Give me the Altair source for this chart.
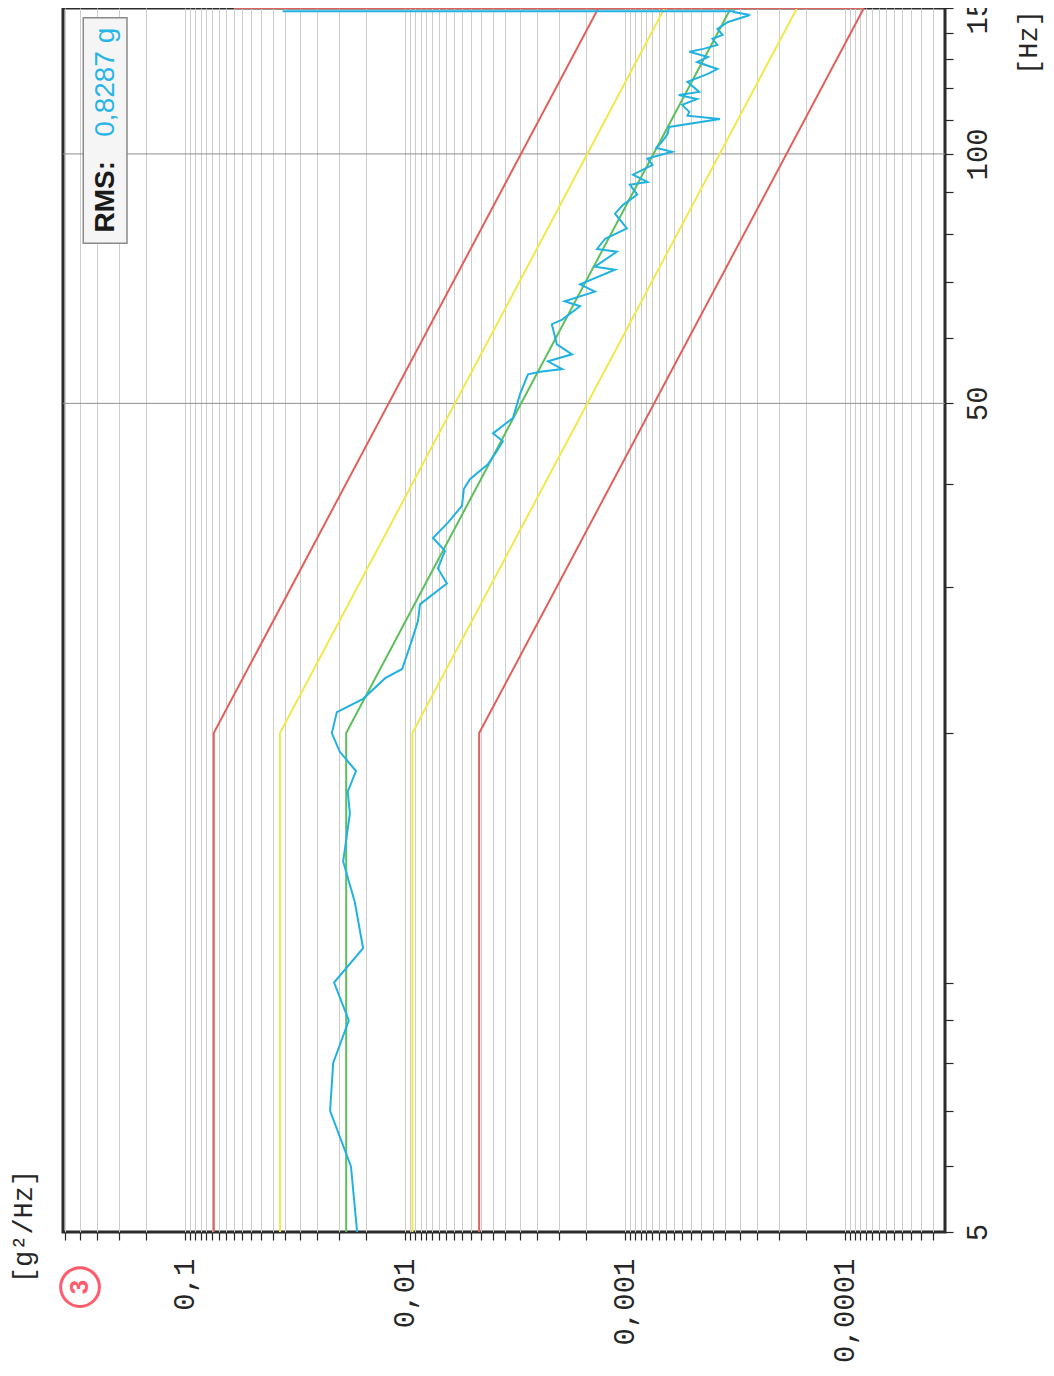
import altair as alt
import pandas as pd

# ---------------- data ----------------
blue_freq = [5.0, 6.0, 7.0, 8.0, 9.0, 10.0, 11.0, 12.5, 14.0, 16.0, 17.0, 18.0, 19.0, 20.0,
             21.2, 22.0, 23.3, 23.9, 25.9, 27.3, 28.6, 30.3, 31.6, 33.2, 34.4, 35.9, 37.6,
             39.4, 40.5, 42.2, 43.8, 45.0, 46.0, 48.0, 51.3, 54.2, 54.6, 55.0, 56.2, 57.3,
             58.9, 62.3, 63.1, 65.5, 66.4, 68.2, 69.6, 72.5, 73.1, 76.2, 76.8, 79.0, 81.3,
             84.7, 86.8, 89.3, 91.8, 92.5, 94.4, 97.0, 98.7, 100.6, 101.7, 103.4, 105.7,
             107.8, 110.2, 111.2, 112.4, 114.6, 116.5, 117.8, 118.8, 122.2, 124.9, 126.6,
             129.1, 130.9, 132.8, 133.9, 135.4, 137.7, 139.2, 141.5, 144.3, 147.1, 148.3,
             148.7, 148.7]
blue_psd = [0.0165, 0.0176, 0.0219, 0.0212, 0.0180, 0.0210, 0.0155, 0.0169, 0.0191, 0.0178,
            0.0182, 0.0167, 0.0198, 0.0215, 0.0204, 0.0155, 0.0123, 0.0103, 0.0093, 0.00873,
            0.00855, 0.00645, 0.00708, 0.00658, 0.00746, 0.00638, 0.00551, 0.0054, 0.00507,
            0.0042, 0.00382, 0.00359, 0.00398, 0.00323, 0.0030, 0.00276, 0.00243, 0.00193,
            0.00224, 0.00174, 0.00204, 0.00215, 0.00193, 0.0016, 0.00188, 0.00137, 0.0016,
            0.00111, 0.00137, 0.00109, 0.00134, 0.00123, 0.00098, 0.00111, 0.00102, 0.00088,
            0.00095, 0.00079, 0.00092, 0.00075, 0.00079, 0.00061, 0.00072, 0.00068, 0.00064,
            0.00063, 0.00037, 0.00052, 0.00051, 0.00055, 0.00047, 0.00057, 0.00046, 0.00052,
            0.00042, 0.00038, 0.00047, 0.00042, 0.00051, 0.00044, 0.00038, 0.00040, 0.00036,
            0.00038, 0.00034, 0.00027, 0.00032, 0.00032, 0.036]

env_freq = [5, 20, 150]
red_hi = [0.074, 0.074, 0.00132]
yel_hi = [0.037, 0.037, 0.00066]
ref_line = [0.0185, 0.0185, 0.00033]
yel_lo = [0.00925, 0.00925, 0.000165]
red_lo = [0.0046, 0.0046, 0.000082]
red_close_freq = [150, 150]
red_close_psd = [0.000082, 0.06]
major_freq = [50, 100]

psd_mantissas = [1, 1.5, 2, 2.5, 3, 3.5, 4, 4.5, 5, 5.5, 6, 6.5, 7, 7.5, 8, 8.5, 9, 9.5]
psd_exponents = [-5, -4, -3, -2, -1]
psd_label_values = [0.1, 0.01, 0.001, 0.0001]
psd_label_texts = ["0,1", "0,01", "0,001", "0,0001"]
freq_tick_values = [5, 6, 7, 8, 9, 10, 20, 30, 40, 50, 60, 70, 80, 90, 100, 110, 120, 130, 140, 150]
freq_label_values = [5, 50, 100, 150]
freq_label_texts = ["5", "50", "100", "150"]
rms_label = "RMS:"
rms_value = "0,8287 g"
psd_title = "[g²/Hz]"
freq_title = "[Hz]"
sheet_mark = "3"

# ---------------- layout / style ----------------
PSD_DOMAIN = [3.51e-5, 0.3585]
FREQ_DOMAIN = [5, 150]
MONO = "Liberation Mono"
SANS = "Liberation Sans"
INK = "#262626"

psd_ticks = sorted(round(m * 10 ** e, 12) for e in psd_exponents for m in psd_mantissas
                   if PSD_DOMAIN[0] <= m * 10 ** e <= PSD_DOMAIN[1])


def label_expr(values, texts):
    expr = "''"
    for v, t in reversed(list(zip(values, texts))):
        expr = f"datum.value == {v!r} ? '{t}' : {expr}"
    return expr


xscale = alt.Scale(type="log", domain=PSD_DOMAIN, reverse=True, nice=False)
yscale = alt.Scale(type="log", domain=FREQ_DOMAIN, nice=False)

xaxis = alt.Axis(orient="bottom", values=psd_ticks,
                 labelExpr=label_expr(psd_label_values, psd_label_texts),
                 grid=True, gridColor="#cdcdcd", gridWidth=1, domain=False,
                 ticks=True, tickSize=8, tickColor=INK, tickWidth=1.2,
                 labelAngle=270, labelAlign="right", labelBaseline="middle",
                 labelFont=MONO, labelFontSize=29, labelColor=INK, labelPadding=18,
                 labelOverlap=False, labelFlush=False,
                 title=psd_title, titleAngle=270, titleX=-40, titleY=-6,
                 titleAlign="center", titleBaseline="middle", titleFont=MONO,
                 titleFontSize=27, titleFontWeight="normal", titleColor=INK)

yaxis = alt.Axis(orient="right", values=freq_tick_values,
                 labelExpr=label_expr(freq_label_values, freq_label_texts),
                 grid=False, domain=False, ticks=True, tickSize=8, tickColor=INK,
                 tickWidth=1.2, labelAngle=270, labelAlign="center", labelBaseline="top",
                 labelFont=MONO, labelFontSize=29, labelColor=INK, labelPadding=10,
                 labelOverlap=False, labelFlush=False,
                 title=freq_title, titleAngle=270, titleX=83, titleY=34,
                 titleAlign="center", titleBaseline="middle", titleFont=MONO,
                 titleFontSize=27, titleFontWeight="normal", titleColor=INK)


def X(field="psd"):
    return alt.X(f"{field}:Q", scale=xscale, axis=xaxis)


def Y(field="freq"):
    return alt.Y(f"{field}:Q", scale=yscale, axis=yaxis)


# ---------------- tables ----------------
env_rows = []
for name, vals in [("red_hi", red_hi), ("yel_hi", yel_hi), ("ref", ref_line),
                   ("yel_lo", yel_lo), ("red_lo", red_lo)]:
    for i, (f, p) in enumerate(zip(env_freq, vals)):
        env_rows.append({"series": name, "freq": f, "psd": p, "ord": i})
for i, (f, p) in enumerate(zip(red_close_freq, red_close_psd)):
    env_rows.append({"series": "red_close", "freq": f, "psd": p, "ord": i})
env_df = pd.DataFrame(env_rows)

blue_df = pd.DataFrame({"freq": blue_freq, "psd": blue_psd, "ord": range(len(blue_freq))})
rule_df = pd.DataFrame({"freq": major_freq})

rms_box_df = pd.DataFrame({"psd": [0.29], "psd2": [0.1835], "freq": [146.0], "freq2": [78.0]})
rms_label_df = pd.DataFrame({"psd": [0.2286], "freq": [80.4], "txt": [rms_label]})
rms_value_df = pd.DataFrame({"psd": [0.2286], "freq": [104.9], "txt": [rms_value]})
mark_df = pd.DataFrame({"psd": [0.30], "freq": [4.29], "txt": [sheet_mark]})

# ---------------- layers ----------------
rules = alt.Chart(rule_df).mark_rule(color="#8f8f8f", strokeWidth=1).encode(y=Y())

env = alt.Chart(env_df).mark_line(strokeWidth=2).encode(
    x=X(), y=Y(),
    color=alt.Color("series:N",
                    scale=alt.Scale(domain=["red_hi", "yel_hi", "ref", "yel_lo", "red_lo", "red_close"],
                                    range=["#e0605c", "#f3e84a", "#5cbf5a", "#f3e84a", "#e0605c", "#e0605c"]),
                    legend=None),
    order="ord:Q")

blue = alt.Chart(blue_df).mark_line(strokeWidth=2, color="#22b2e2").encode(
    x=X(), y=Y(), order="ord:Q")

rms_box = alt.Chart(rms_box_df).mark_rect(fill="#f5f5f5", stroke="#8a8a8a", strokeWidth=1.5).encode(
    x=X(), x2="psd2:Q", y=Y(), y2="freq2:Q")

rms_label_t = alt.Chart(rms_label_df).mark_text(
    angle=270, align="left", baseline="middle", font=SANS, fontSize=28, fontWeight="bold",
    color="#1a1a1a").encode(x=X(), y=Y(), text="txt:N")

rms_value_t = alt.Chart(rms_value_df).mark_text(
    angle=270, align="left", baseline="middle", font=SANS, fontSize=28,
    color="#29b5e6").encode(x=X(), y=Y(), text="txt:N")

mark_circle = alt.Chart(mark_df).mark_point(
    shape="circle", size=1500, filled=False, stroke="#ff5b6b", strokeWidth=3, opacity=1).encode(
    x=X(), y=Y())

mark_text = alt.Chart(mark_df).mark_text(
    angle=270, align="center", baseline="middle", font=SANS, fontSize=26, fontWeight="bold",
    color="#ff5b6b").encode(x=X(), y=Y(), text="txt:N")

chart = alt.layer(rules, env, blue, rms_box, rms_label_t, rms_value_t, mark_circle, mark_text).properties(
    width=882, height=1224,
    autosize=alt.AutoSizeParams(type="none"),
    padding={"left": 55, "top": 0, "right": 100, "bottom": 136},
    background="white",
).configure_view(stroke="#2b2b2b", strokeWidth=3)

chart.save("out.html", embed_options={"renderer": "svg", "actions": False})
